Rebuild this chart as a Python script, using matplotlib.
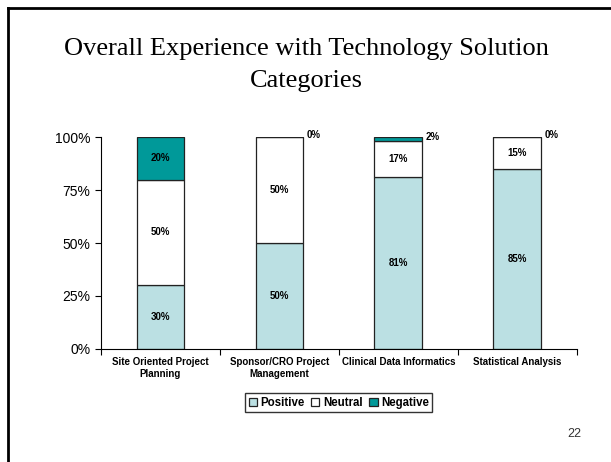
import numpy as np
import matplotlib.pyplot as plt
from matplotlib.lines import Line2D

categories = ['Site Oriented Project\nPlanning', 'Sponsor/CRO Project\nManagement',
              'Clinical Data Informatics', 'Statistical Analysis']
positive = [30, 50, 81, 85]
neutral = [50, 50, 17, 15]
negative = [20, 0, 2, 0]
series_names = ['Positive', 'Neutral', 'Negative']
colors = ['#BBE0E3', '#FFFFFF', '#009999']

fig = plt.figure(figsize=(6.11, 4.62), dpi=100)
ax = fig.add_axes([0.165, 0.245, 0.779, 0.458])

x = np.arange(len(categories))
w = 0.4
bottom = np.zeros(len(categories))
for vals, name, col in zip([positive, neutral, negative], series_names, colors):
    ax.bar(x, vals, w, bottom=bottom, color=col, edgecolor='#222222', linewidth=0.9, label=name)
    for i, v in enumerate(vals):
        if v >= 10:
            ax.text(x[i], bottom[i] + v / 2, f'{v}%', ha='center', va='center',
                    fontsize=7, fontweight='bold', family='Liberation Sans')
        else:
            ax.text(x[i] + w / 2 + 0.03, bottom[i] + v / 2 + 1, f'{v}%', ha='left', va='center',
                    fontsize=7, fontweight='bold', family='Liberation Sans')
    bottom += np.array(vals)

ax.set_xlim(-0.5, 3.5)
ax.set_ylim(0, 100)
ax.set_yticks([0, 25, 50, 75, 100])
ax.set_yticklabels(['0%', '25%', '50%', '75%', '100%'], fontsize=10, family='Liberation Sans')
ax.set_xticks([-0.5, 0.5, 1.5, 2.5, 3.5], minor=False)
ax.set_xticklabels([])
ax.set_xticks(x, minor=True)
ax.set_xticklabels(categories, minor=True, fontsize=7, fontweight='bold', family='Liberation Sans')
ax.tick_params(axis='x', which='minor', length=0, pad=6)
ax.tick_params(axis='x', which='major', length=4, direction='out')
ax.tick_params(axis='y', length=4, direction='out')
for s in ['top', 'right']:
    ax.spines[s].set_visible(False)

leg = ax.legend(loc='center', bbox_to_anchor=(0.5, -0.255), ncol=3, frameon=True, fancybox=False,
                edgecolor='black', handlelength=0.7, handleheight=0.7, handletextpad=0.3,
                columnspacing=0.6, borderpad=0.3,
                prop={'family': 'Liberation Sans', 'weight': 'bold', 'size': 8.3})
for h in leg.legend_handles:
    h.set_edgecolor('#222222')

fig.text(0.502, 0.86, 'Overall Experience with Technology Solution\nCategories', ha='center', va='center',
         fontsize=19, family='Liberation Serif', linespacing=1.6)
fig.text(0.928, 0.06, '22', ha='left', va='center', fontsize=9, family='Liberation Sans', color='#333333')

fig.add_artist(Line2D([0.013, 0.013], [0, 0.983], transform=fig.transFigure, color='black', linewidth=2))
fig.add_artist(Line2D([0.013, 1.0], [0.983, 0.983], transform=fig.transFigure, color='black', linewidth=2))

fig.savefig('out.png', dpi=100)
